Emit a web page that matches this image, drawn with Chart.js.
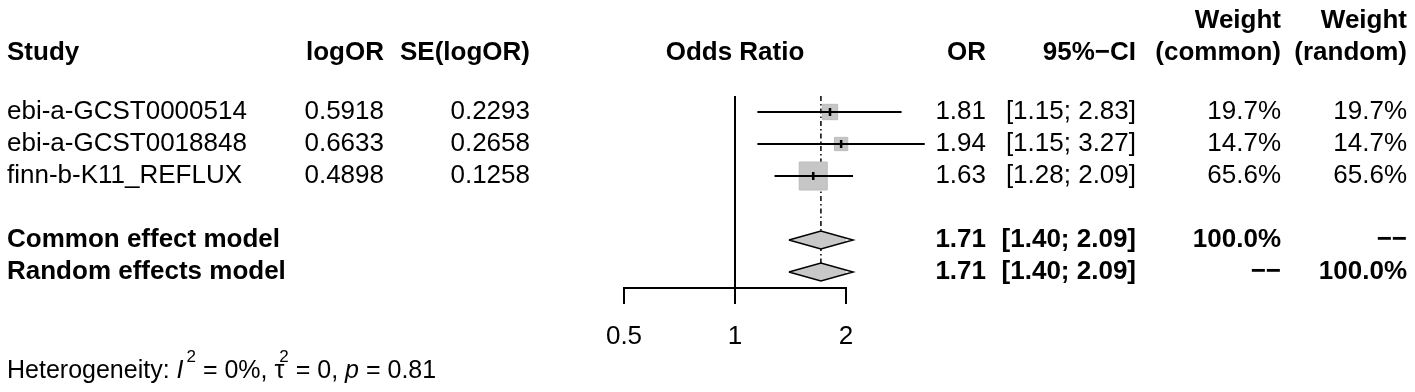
<!DOCTYPE html>
<html>
<head>
<meta charset="utf-8">
<script src="https://cdn.jsdelivr.net/npm/chart.js@4.4.1/dist/chart.umd.min.js"></script>
<style>
  html, body { margin: 0; padding: 0; background: #fff; }
  #wrap { width: 1415px; height: 392px; }
</style>
</head>
<body>
<div id="wrap"><canvas id="forest"></canvas></div>
<script>
// study level data
const studies = ['ebi-a-GCST0000514', 'ebi-a-GCST0018848', 'finn-b-K11_REFLUX'];
const logOR = ['0.5918', '0.6633', '0.4898'];
const seLogOR = ['0.2293', '0.2658', '0.1258'];
const oddsRatio = [1.81, 1.94, 1.63];
const ciLower = [1.15, 1.15, 1.28];
const ciUpper = [2.83, 3.27, 2.09];
const weightCommon = [19.7, 14.7, 65.6];
const weightRandom = [19.7, 14.7, 65.6];

// pooled models
const models = ['Common effect model', 'Random effects model'];
const modelOR = [1.71, 1.71];
const modelLower = [1.40, 1.40];
const modelUpper = [2.09, 2.09];
const modelWeightCommon = ['100.0%', '\u2212\u2212'];
const modelWeightRandom = ['\u2212\u2212', '100.0%'];

const xTicks = [0.5, 1, 2];
const hetI2 = '0%';
const hetTau2 = '0';
const hetP = '0.81';

const FONT = '"Liberation Sans", Arial, Helvetica, sans-serif';
const studyRows = studies.map((s, i) => i + 1);
const modelRows = models.map((m, i) => studies.length + 2 + i);

// squares scaled by weight (largest square ~28px wide)
const maxW = Math.max(...weightCommon);
const squareRadius = weightCommon.map(w => 28 * Math.sqrt(w / maxW) / Math.SQRT2);

const datasets = [];

// diamonds for pooled estimates
models.forEach((m, i) => {
  const r = modelRows[i];
  datasets.push({
    type: 'line',
    data: [
      { x: modelLower[i], y: r },
      { x: modelOR[i], y: r - 0.28 },
      { x: modelUpper[i], y: r },
      { x: modelOR[i], y: r + 0.28 },
      { x: modelLower[i], y: r }
    ],
    borderColor: '#000',
    borderWidth: 1.5,
    backgroundColor: '#c8c8c8',
    fill: 'shape',
    pointRadius: 0,
    tension: 0,
    clip: false,
    order: 1
  });
});

// point estimate marks
datasets.push({
  type: 'scatter',
  data: studies.map((s, i) => ({ x: oddsRatio[i], y: studyRows[i] })),
  pointStyle: 'line',
  rotation: 90,
  pointRadius: 4,
  borderWidth: 2.5,
  borderColor: '#000',
  clip: false,
  order: 2
});

// confidence intervals
studies.forEach((s, i) => {
  datasets.push({
    type: 'line',
    data: [{ x: ciLower[i], y: studyRows[i] }, { x: ciUpper[i], y: studyRows[i] }],
    borderColor: '#000',
    borderWidth: 2,
    pointRadius: 0,
    fill: false,
    clip: false,
    order: 3
  });
});

// line of no effect
datasets.push({
  type: 'line',
  data: [{ x: 1, y: 0.5 }, { x: 1, y: modelRows[1] + 0.5 }],
  borderColor: '#000',
  borderWidth: 2,
  pointRadius: 0,
  fill: false,
  clip: false,
  order: 4
});

// weight squares
datasets.push({
  type: 'scatter',
  data: studies.map((s, i) => ({ x: oddsRatio[i], y: studyRows[i] })),
  pointStyle: 'rect',
  pointRadius: squareRadius,
  backgroundColor: '#c6c6c6',
  borderColor: '#bcbcbc',
  borderWidth: 1,
  clip: false,
  order: 5
});

// pooled estimate dash-dot line
datasets.push({
  type: 'line',
  data: [{ x: modelOR[0], y: 0.5 }, { x: modelOR[0], y: modelRows[1] }],
  borderColor: '#000',
  borderWidth: 1.5,
  borderDash: [5, 3, 1.5, 3],
  pointRadius: 0,
  fill: false,
  clip: false,
  order: 6
});

const cols = { study: 7, logOR: 384, se: 530, or: 986, ci: 1136, wc: 1281, wr: 1407 };

const tablePlugin = {
  id: 'forestTable',
  afterDraw(chart) {
    const ctx = chart.ctx;
    const xs = chart.scales.x;
    const ys = chart.scales.y;
    const put = (txt, px, row, align, bold) => {
      ctx.font = (bold ? 'bold ' : '') + '26px ' + FONT;
      ctx.textAlign = align;
      ctx.fillText(txt, px, ys.getPixelForValue(row));
    };
    ctx.save();
    ctx.fillStyle = '#000';
    ctx.textBaseline = 'middle';

    // headers
    const h1 = -1.85, h2 = -0.85;
    put('Weight', cols.wc, h1, 'right', true);
    put('Weight', cols.wr, h1, 'right', true);
    put('Study', cols.study, h2, 'left', true);
    put('logOR', cols.logOR, h2, 'right', true);
    put('SE(logOR)', cols.se, h2, 'right', true);
    put('Odds Ratio', xs.getPixelForValue(1), h2, 'center', true);
    put('OR', cols.or, h2, 'right', true);
    put('95%\u2212CI', cols.ci, h2, 'right', true);
    put('(common)', cols.wc, h2, 'right', true);
    put('(random)', cols.wr, h2, 'right', true);

    studies.forEach((s, i) => {
      const r = studyRows[i];
      put(s, cols.study, r, 'left', false);
      put(logOR[i], cols.logOR, r, 'right', false);
      put(seLogOR[i], cols.se, r, 'right', false);
      put(oddsRatio[i].toFixed(2), cols.or, r, 'right', false);
      put('[' + ciLower[i].toFixed(2) + '; ' + ciUpper[i].toFixed(2) + ']', cols.ci, r, 'right', false);
      put(weightCommon[i].toFixed(1) + '%', cols.wc, r, 'right', false);
      put(weightRandom[i].toFixed(1) + '%', cols.wr, r, 'right', false);
    });

    models.forEach((m, i) => {
      const r = modelRows[i];
      put(m, cols.study, r, 'left', true);
      put(modelOR[i].toFixed(2), cols.or, r, 'right', true);
      put('[' + modelLower[i].toFixed(2) + '; ' + modelUpper[i].toFixed(2) + ']', cols.ci, r, 'right', true);
      put(modelWeightCommon[i], cols.wc, r, 'right', true);
      put(modelWeightRandom[i], cols.wr, r, 'right', true);
    });

    // heterogeneity line: [text, style, superscript x-shift]
    const hy = ys.getPixelForValue(9.1);
    const parts = [
      ['Heterogeneity: ', ''], ['I', 'italic '], ['2', 'sup', 3],
      [' = ' + hetI2 + ', ', ''], ['\u03c4', ''], ['2', 'sup', -5],
      [' = ' + hetTau2 + ', ', ''], ['p', 'italic '], [' = ' + hetP, '']
    ];
    let hx = cols.study;
    ctx.textAlign = 'left';
    parts.forEach(([txt, st, shift]) => {
      if (st === 'sup') {
        ctx.font = '17px ' + FONT;
        ctx.fillText(txt, hx + shift, hy - 14);
        hx = hx + shift + ctx.measureText(txt).width;
      } else {
        ctx.font = st + '25px ' + FONT;
        ctx.fillText(txt, hx, hy);
        hx += ctx.measureText(txt).width;
      }
    });
    ctx.restore();
  }
};

new Chart(document.getElementById('forest'), {
  type: 'scatter',
  data: { datasets },
  options: {
    responsive: true,
    maintainAspectRatio: false,
    animation: false,
    layout: { padding: { left: 624, right: 569, top: 96, bottom: 0 } },
    plugins: { legend: { display: false }, tooltip: { enabled: false } },
    scales: {
      x: {
        type: 'logarithmic',
        min: 0.5,
        max: 2,
        position: 'bottom',
        afterBuildTicks: axis => { axis.ticks = xTicks.map(v => ({ value: v })); },
        afterFit: axis => { axis.height = 104; },
        grid: { drawOnChartArea: false, drawTicks: true, tickLength: 16, color: '#000', lineWidth: 2 },
        border: { display: true, color: '#000', width: 2 },
        ticks: {
          color: '#000',
          font: { size: 26, family: FONT },
          padding: 17,
          maxRotation: 0,
          autoSkip: false,
          callback: v => String(v)
        }
      },
      y: {
        type: 'linear',
        min: 0.5,
        max: modelRows[1] + 0.5,
        reverse: true,
        display: false
      }
    }
  },
  plugins: [tablePlugin]
});
</script>
</body>
</html>
